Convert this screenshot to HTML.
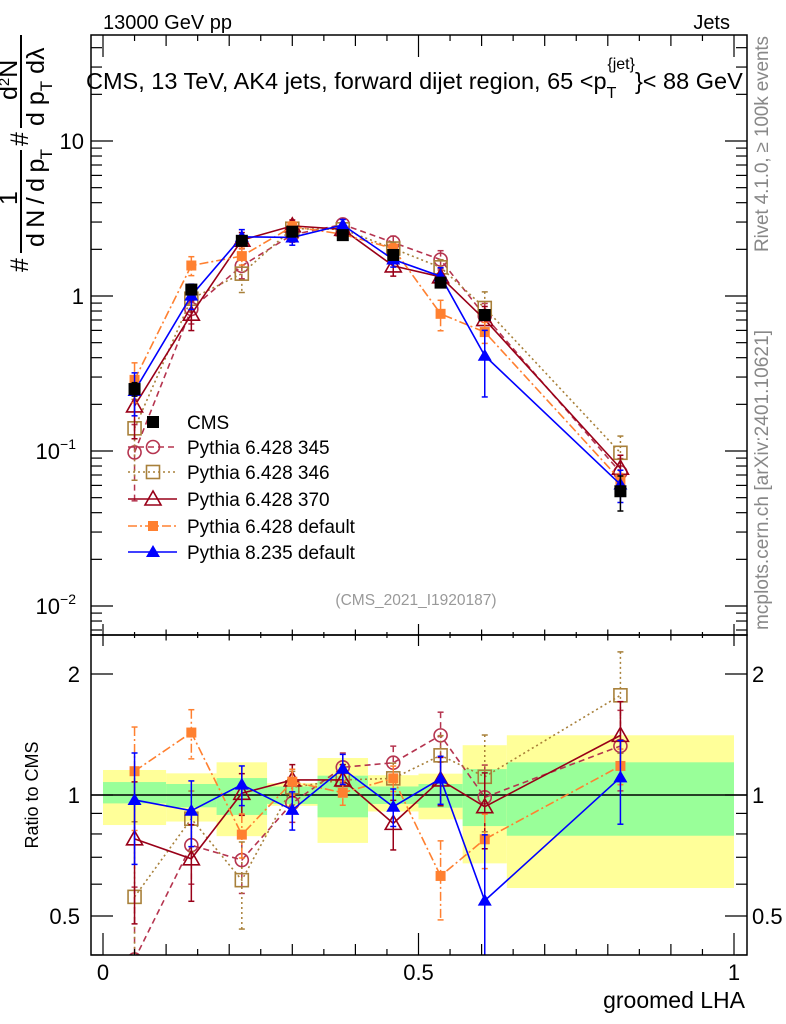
<!DOCTYPE html>
<html><head><meta charset="utf-8">
<style>
html,body{margin:0;padding:0;background:#fff;overflow:hidden;width:786px;height:1024px;}
svg{display:block;font-family:"Liberation Sans",sans-serif;}
</style></head>
<body>
<svg id="chart" width="786" height="1024" viewBox="0 0 786 1024" xmlns="http://www.w3.org/2000/svg">
<defs>
<clipPath id="clipMain"><rect x="91" y="35" width="656" height="600"/></clipPath>
<clipPath id="clipRatio"><rect x="91" y="635" width="656" height="320"/></clipPath>
</defs>
<g id="bands" clip-path="url(#clipRatio)"></g>
<g id="marksMain" clip-path="url(#clipMain)"></g>
<g id="marksRatio" clip-path="url(#clipRatio)"></g>
<rect x="91" y="35" width="656" height="600" fill="none" stroke="#000" stroke-width="1.5"/>
<rect x="91" y="635" width="656" height="320" fill="none" stroke="#000" stroke-width="1.5"/>
<g id="axes"></g>
<g id="legend"></g>

<text x="103" y="29" font-size="20">13000 GeV pp</text>
<text x="730" y="29" font-size="20" text-anchor="end">Jets</text>
<text x="86" y="89" font-size="23.5">CMS, 13 TeV, AK4 jets, forward dijet region, 65 &lt;p<tspan dy="9" font-size="16">T</tspan><tspan dx="-9" dy="-29" font-size="16">{jet}</tspan><tspan dy="20">}&lt; 88 GeV</tspan></text>
<text x="416" y="605" font-size="15.5" fill="#999" text-anchor="middle">(CMS_2021_I1920187)</text>
<text transform="translate(768,252) rotate(-90)" font-size="19" fill="#888" textLength="216">Rivet 4.1.0, ≥ 100k events</text>
<text transform="translate(768,630) rotate(-90)" font-size="19" fill="#888" textLength="300">mcplots.cern.ch [arXiv:2401.10621]</text>
<text transform="translate(38,795) rotate(-90)" font-size="18" text-anchor="middle">Ratio to CMS</text>
<text x="745" y="1008" font-size="23" text-anchor="end">groomed LHA</text>
<g font-size="25">
<text transform="translate(28,272) rotate(-90)">#</text>
<text transform="translate(17,205) rotate(-90)">1</text>
<line x1="21" y1="253" x2="21" y2="150" stroke="#000" stroke-width="2"/>
<text transform="translate(44,247) rotate(-90)" textLength="98">d N / d p<tspan dy="8" font-size="17">T</tspan></text>
<text transform="translate(28,146) rotate(-90)">#</text>
<text transform="translate(17,100) rotate(-90)">d<tspan dy="-8" font-size="15">2</tspan><tspan dy="8">N</tspan></text>
<line x1="21" y1="128" x2="21" y2="35" stroke="#000" stroke-width="2"/>
<text transform="translate(44,126) rotate(-90)">d p<tspan dy="8" font-size="17">T</tspan><tspan dy="-8"> dλ</tspan></text>
</g>
</svg>
<script>
const binCenters=[0.05,0.14,0.22,0.30,0.38,0.46,0.535,0.605,0.82];
const binEdges=[0,0.1,0.18,0.26,0.34,0.42,0.5,0.57,0.64,1.0];
const cmsValues=[0.251,1.10,2.27,2.6,2.47,1.84,1.22,0.754,0.055];
const cmsErr=[0.025,0.06,0.12,0.13,0.13,0.1,0.08,0.05,0.014];
const yellowHi=[1.154,1.132,1.206,1.07,1.236,1.12,1.13,1.33,1.408];
const yellowLo=[0.842,0.859,0.79,0.94,0.76,0.91,0.87,0.676,0.587];
const greenHi=[1.077,1.065,1.102,1.05,1.117,1.05,1.065,1.16,1.206];
const greenLo=[0.953,0.932,0.892,0.95,0.88,0.95,0.93,0.837,0.792];
const ratio345=[0.39,0.75,0.689,0.955,1.172,1.203,1.407,0.987,1.324];
const ratio346=[0.558,0.873,0.614,1.045,1.09,1.10,1.255,1.11,1.77];
const ratio370=[0.778,0.694,1.01,1.09,1.09,0.85,1.09,0.935,1.407];
const ratio6def=[1.146,1.43,0.797,1.079,1.013,1.10,0.629,0.776,1.181];
const ratio8def=[0.972,0.914,1.061,0.918,1.162,0.935,1.098,0.546,1.106];
const err345=[0.2,0.15,0.12,0.1,0.1,0.12,0.2,0.2,0.3];
const err346=[0.3,0.15,0.15,0.1,0.1,0.1,0.15,0.3,0.5];
const err370=[0.3,0.15,0.12,0.1,0.1,0.12,0.15,0.2,0.3];
const err6def=[0.33,0.2,0.1,0.08,0.07,0.08,0.14,0.12,0.12];
const err8def=[0.3,0.17,0.12,0.1,0.1,0.1,0.15,0.25,0.26];
const mainTickLabels=["10","1","10","10"];
const ratioTickLabels=["2","1","0.5"];
const xTickLabels=["0","0.5","1"];

const NS="http://www.w3.org/2000/svg";
const X=v=>103+631*v;
const YM=v=>296-155*Math.log10(v);
const YR=v=>795-402*Math.log10(v);
function mk(tag,attrs,parent){const e=document.createElementNS(NS,tag);for(const k in attrs)e.setAttribute(k,attrs[k]);parent.appendChild(e);return e;}

const bands=document.getElementById('bands');
for(let i=0;i<binCenters.length;i++){
  const x0=X(binEdges[i]),x1=X(binEdges[i+1]);
  const y=mk('rect',{x:x0,y:YR(yellowHi[i]),width:x1-x0,height:YR(yellowLo[i])-YR(yellowHi[i]),fill:'#ffff99'},bands);
  
  
  const g=mk('rect',{x:x0,y:YR(greenHi[i]),width:x1-x0,height:YR(greenLo[i])-YR(greenHi[i]),fill:'#99ff99'},bands);
  
  
}
const one=mk('line',{x1:91,x2:747,y1:YR(1),y2:YR(1),stroke:'#000','stroke-width':1.5},bands);



function marker(type,color,x,y,parent){
  if(type==='sqf')return mk('rect',{x:x-6,y:y-6,width:12,height:12,fill:color},parent);
  if(type==='sqo')return mk('rect',{x:x-6.5,y:y-6.5,width:13,height:13,fill:'none',stroke:color,'stroke-width':1.6},parent);
  if(type==='circ')return mk('circle',{cx:x,cy:y,r:6.5,fill:'none',stroke:color,'stroke-width':1.6},parent);
  if(type==='trio')return mk('polygon',{points:`${x},${y-8} ${x-8},${y+6} ${x+8},${y+6}`,fill:'none',stroke:color,'stroke-width':1.6},parent);
  if(type==='sqs')return mk('rect',{x:x-5,y:y-5,width:10,height:10,fill:color},parent);
  if(type==='trif')return mk('polygon',{points:`${x},${y-7} ${x-7},${y+5} ${x+7},${y+5}`,fill:color},parent);
}
const series=[
 {name:'Pythia 6.428 345',key:'p345',r:ratio345,e:err345,color:'#b5344f',dash:'6,4',m:'circ'},
 {name:'Pythia 6.428 346',key:'p346',r:ratio346,e:err346,color:'#a8803a',dash:'2,3',m:'sqo'},
 {name:'Pythia 6.428 370',key:'p370',r:ratio370,e:err370,color:'#990018',dash:'',m:'trio'},
 {name:'Pythia 6.428 default',key:'p6def',r:ratio6def,e:err6def,color:'#ff8030',dash:'9,3,2,3',m:'sqs'},
 {name:'Pythia 8.235 default',key:'p8def',r:ratio8def,e:err8def,color:'#0000ff',dash:'',m:'trif'}
];
const gm=document.getElementById('marksMain'),gr=document.getElementById('marksRatio');
function drawErr(g,x,y1,y2,color,dash){
  mk('line',{x1:x,x2:x,y1:y1,y2:y2,stroke:color,'stroke-width':1.5,'stroke-dasharray':dash},g);
  mk('line',{x1:x-3,x2:x+3,y1:y1,y2:y1,stroke:color,'stroke-width':1.5},g);
  mk('line',{x1:x-3,x2:x+3,y1:y2,y2:y2,stroke:color,'stroke-width':1.5},g);
}
series.forEach(s=>{
  const vals=s.r.map((r,i)=>r*cmsValues[i]);
  const g1=mk('g',{},gm);
  
  
  const g2=mk('g',{},gr);
  
  
  mk('polyline',{points:vals.map((v,i)=>X(binCenters[i])+','+YM(v)).join(' '),fill:'none',stroke:s.color,'stroke-width':1.6,'stroke-dasharray':s.dash},g1);
  mk('polyline',{points:s.r.map((v,i)=>X(binCenters[i])+','+YR(v)).join(' '),fill:'none',stroke:s.color,'stroke-width':1.6,'stroke-dasharray':s.dash},g2);
  s.r.forEach((r,i)=>{
    const x=X(binCenters[i]);
    const rel=Math.min(s.e[i]/r,0.6);
    const v=vals[i];
    drawErr(g1,x,YM(v*(1+rel)),YM(v*(1-rel)),s.color,s.dash);
    drawErr(g2,x,YR(r+s.e[i]),YR(Math.max(r-s.e[i],0.05)),s.color,s.dash);
    const m1=marker(s.m,s.color,x,YM(v),g1);
    
    
    const m2=marker(s.m,s.color,x,YR(r),g2);
    
    
  });
});
const gc=mk('g',{},gm);


cmsValues.forEach((v,i)=>{
  const x=X(binCenters[i]);
  drawErr(gc,x,YM(v+cmsErr[i]),YM(v-cmsErr[i]),'#000','');
  const m=marker('sqf','#000',x,YM(v),gc);
  
  
});

const ax=document.getElementById('axes');
function tick(x1,y1,x2,y2){mk('line',{x1,y1,x2,y2,stroke:'#000','stroke-width':1.2},ax);}
for(let d=-3;d<=1;d++){for(let k=1;k<=9;k++){const v=k*Math.pow(10,d);const y=YM(v);if(y<35||y>635)continue;const L=k===1?22:11;tick(91,y,91+L,y);tick(747,y,747-L,y);}}
const mainDecades=[1,0,-1,-2];
mainDecades.forEach((d,i)=>{
  const t=mk('text',{x:84,y:YM(Math.pow(10,d))+8,'font-size':22,'text-anchor':'end'},ax);
  
  
  t.textContent=mainTickLabels[i];
  if(d<0){const s=mk('tspan',{dy:-10,'font-size':14},t);s.textContent='−'+(-d);t.setAttribute('x',76);}
});
[0.4,0.5,0.6,0.7,0.8,0.9,1,2].forEach(v=>{const y=YR(v);if(y<635||y>955)return;const L=(v===1||v===2||v===0.5)?22:11;tick(91,y,91+L,y);tick(747,y,747-L,y);});
[2,1,0.5].forEach((v,i)=>{
  const t=mk('text',{x:80,y:YR(v)+8,'font-size':22,'text-anchor':'end'},ax);
  
  
  t.textContent=ratioTickLabels[i];
  const t2=mk('text',{x:752,y:YR(v)+8,'font-size':22},ax);
  
  
  t2.textContent=ratioTickLabels[i];
});
for(let k=0;k<=20;k++){const v=k*0.05;const x=X(v);const L=k%10===0?22:(k%2===0?11:6);tick(x,955,x,955-L);tick(x,35,x,35+L);tick(x,635,x,635-L/2);tick(x,635,x,635+L/2);}
[0,0.5,1].forEach((v,i)=>{
  const t=mk('text',{x:X(v),y:980,'font-size':22,'text-anchor':'middle'},ax);
  
  
  t.textContent=xTickLabels[i];
});

const lg=document.getElementById('legend');
const ly=[422,447,472,499,526,552];
const e0=mk('g',{},lg);


marker('sqf','#000',153,ly[0],e0);
const t0=mk('text',{x:187,y:ly[0]+7,'font-size':19},e0);t0.textContent='CMS';
series.forEach((s,i)=>{
  const e=mk('g',{},lg);
  
  
  const y=ly[i+1];
  mk('line',{x1:128,x2:177,y1:y,y2:y,stroke:s.color,'stroke-width':1.6,'stroke-dasharray':s.dash},e);
  marker(s.m,s.color,153,y,e);
  const t=mk('text',{x:187,y:y+7,'font-size':19},e);t.textContent=s.name;
});
</script>
</body></html>
